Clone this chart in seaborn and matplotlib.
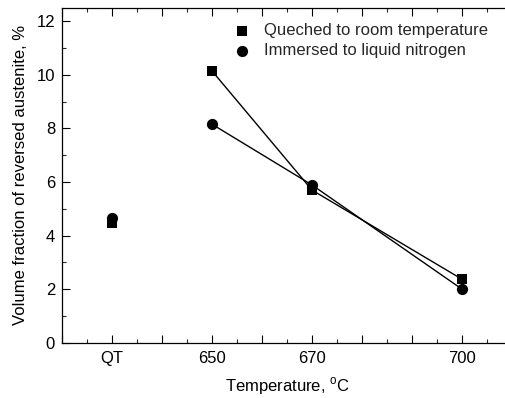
import matplotlib
matplotlib.use("Agg")
import matplotlib.pyplot as plt
import seaborn as sns
import pandas as pd
from matplotlib.ticker import FixedLocator, MultipleLocator, FixedFormatter

sns.set_theme(style="white")
plt.rcParams['font.family'] = ['Liberation Sans', 'DejaVu Sans']
plt.rcParams['mathtext.fontset'] = 'custom'
plt.rcParams['mathtext.rm'] = 'Liberation Sans'

# data
categories = ["QT", "650", "670", "700"]
x_values = [630, 650, 670, 700]          # QT placed at 630 on the temperature axis
quenched = [4.47, 10.15, 5.70, 2.37]
immersed = [4.65, 8.16, 5.89, 2.00]
series_names = ["Queched to room temperature", "Immersed to liquid nitrogen"]

df_q = pd.DataFrame({"x": x_values, "y": quenched})
df_i = pd.DataFrame({"x": x_values, "y": immersed})

fig = plt.figure(figsize=(5.05, 3.98), dpi=100)
ax = fig.add_axes([62/505, 1 - 342.7/398, (512 - 62)/505, (342.7 - 8)/398])

# connecting lines (not for QT)
sns.lineplot(data=df_q.iloc[1:], x="x", y="y", ax=ax, color="black", lw=1.0, legend=False)
sns.lineplot(data=df_i.iloc[1:], x="x", y="y", ax=ax, color="black", lw=1.0, legend=False)
# markers
sns.scatterplot(data=df_q, x="x", y="y", ax=ax, marker="s", s=55, color="black",
                edgecolor="black", linewidth=0, label=series_names[0], zorder=3)
sns.scatterplot(data=df_i, x="x", y="y", ax=ax, marker="o", s=65, color="black",
                edgecolor="black", linewidth=0, label=series_names[1], zorder=3)

ax.set_xlim(620, 710)
ax.set_ylim(0, 12.5)

major_x = list(range(620, 711, 10))
labels_x = [categories[x_values.index(v)] if v in x_values else "" for v in major_x]
ax.xaxis.set_major_locator(FixedLocator(major_x))
ax.xaxis.set_major_formatter(FixedFormatter(labels_x))
ax.xaxis.set_minor_locator(MultipleLocator(5))
ax.yaxis.set_major_locator(MultipleLocator(2))
ax.yaxis.set_minor_locator(MultipleLocator(1))

ax.tick_params(axis="both", which="major", direction="in", length=6, width=0.8,
               top=True, bottom=True, left=True, right=False, labelsize=12, colors="black", pad=5)
ax.tick_params(axis="both", which="minor", direction="in", length=3, width=0.8,
               top=True, bottom=True, left=True, right=False)
ax.tick_params(axis="x", which="major", pad=6)

for side in ["left", "bottom", "top"]:
    ax.spines[side].set_visible(True)
    ax.spines[side].set_color("black")
    ax.spines[side].set_linewidth(0.9)
ax.spines["right"].set_visible(False)

ax.set_xlabel(r"Temperature, $^{\mathrm{o}}$C", fontsize=12, color="black", labelpad=7)
ax.set_ylabel("Volume fraction of reversed austenite, %", fontsize=12, color="black", labelpad=6)

leg = ax.legend(loc="upper left", bbox_to_anchor=(0.363, 0.975), frameon=False,
                fontsize=12, handletextpad=0.7, labelspacing=0.3, handlelength=1.2,
                borderaxespad=0)

fig.savefig("out.png", dpi=100)
